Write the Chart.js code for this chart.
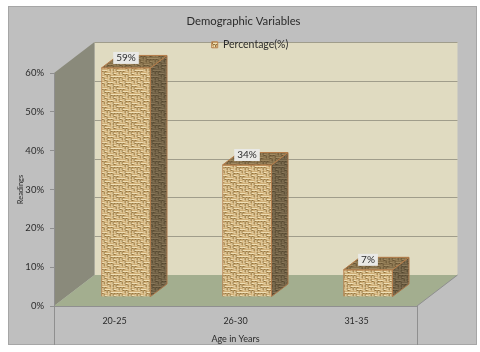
<!DOCTYPE html>
<html>
<head>
<meta charset="utf-8">
<title>Demographic Variables</title>
<script src="https://cdn.jsdelivr.net/npm/chart.js@4/dist/chart.umd.min.js"></script>
<style>
  html, body { margin: 0; padding: 0; background: #fff; }
  #wrap { width: 480px; height: 352px; }
</style>
</head>
<body>
<div id="wrap"><canvas id="chart" width="480" height="352"></canvas></div>
<script>
const ageGroups = ['20-25', '26-30', '31-35'];
const percentages = [59, 34, 7];
const seriesName = 'Percentage(%)';
const chartTitle = 'Demographic Variables';
const yAxisTitle = 'Readings';
const xAxisTitle = 'Age in Years';

const FONT = 'Lato, "Open Sans", sans-serif';
const TEXT = '#2b2b2b';
const DEPTH_X = 40.5;   // wall depth
const DEPTH_Y = 31;
const BAR_DX = 11.5;    // bars stand in the middle of the floor
const BAR_DY = -9;
const BAR_DEPTH_X = 16.5;
const BAR_DEPTH_Y = 12.5;

// burlap looking tile for the bars, H = threads across, V = threads down
const WEAVE_MAP = ['HVHHVV', 'VVHVHH', 'HHVVVH', 'VHHVHV', 'HVVHHH', 'VHVVHV'];

function makeWeave(light, mid, dark) {
  const tile = document.createElement('canvas');
  tile.width = 18;
  tile.height = 18;
  const c = tile.getContext('2d');
  c.fillStyle = mid;
  c.fillRect(0, 0, 18, 18);
  WEAVE_MAP.forEach((row, by) => {
    row.split('').forEach((cell, bx) => {
      const x = bx * 3;
      const y = by * 3;
      c.fillStyle = light;
      if (cell === 'H') c.fillRect(x, y + 1, 3, 1);
      else c.fillRect(x + 1, y, 1, 3);
      c.fillStyle = dark;
      if (cell === 'H') c.fillRect(x, y + 2, 2, 1);
      else c.fillRect(x + 2, y, 1, 2);
    });
  });
  return document.createElement('canvas').getContext('2d').createPattern(tile, 'repeat');
}

const frontWeave = makeWeave('#efdfb6', '#cfae76', '#93743f');
const sideWeave = makeWeave('#887759', '#6f5f44', '#54472f');
const topWeave = makeWeave('#a08a62', '#86704a', '#665233');

function poly(ctx, pts, fill, stroke) {
  ctx.beginPath();
  pts.forEach((p, i) => (i ? ctx.lineTo(p[0], p[1]) : ctx.moveTo(p[0], p[1])));
  ctx.closePath();
  ctx.fillStyle = fill;
  ctx.fill();
  if (stroke) {
    ctx.strokeStyle = stroke;
    ctx.lineWidth = 1;
    ctx.stroke();
  }
}

const scene = {
  id: 'scene',
  afterLayout(chart) {
    // title and legend are not centred on the canvas in the reference
    chart.titleBlock.left -= 4.5;
    chart.titleBlock.right -= 4.5;
    chart.legend.left += 2;
    chart.legend.right += 2;
  },
  beforeDraw(chart) {
    const { ctx, chartArea: a, scales } = chart;
    const y = scales.y;
    ctx.save();
    ctx.fillStyle = '#bfbfbf';
    ctx.fillRect(8, 6, 469, 339);
    ctx.strokeStyle = '#a6a6a6';
    ctx.lineWidth = 1;
    ctx.strokeRect(8.5, 6.5, 468, 338);

    const bx = a.left + DEPTH_X;
    const bxr = a.right + DEPTH_X;
    const bt = a.top - DEPTH_Y;
    const bb = a.bottom - DEPTH_Y;
    poly(ctx, [[bx, bt], [bxr, bt], [bxr, bb], [bx, bb]], '#e0dbc1');
    poly(ctx, [[a.left, a.top], [bx, bt], [bx, bb], [a.left, a.bottom]], '#8a8a7b');
    poly(ctx, [[a.left, a.bottom], [bx, bb], [bxr, bb], [a.right, a.bottom]], '#a3ae8f');

    // gridlines on the back wall
    ctx.strokeStyle = '#a09d8b';
    y.ticks.forEach((t) => {
      if (t.value === 0) return;
      const py = Math.round(y.getPixelForValue(t.value) - DEPTH_Y) + 0.5;
      ctx.beginPath();
      ctx.moveTo(bx, py);
      ctx.lineTo(bxr, py);
      ctx.stroke();
    });

    // axis table below the floor
    ctx.strokeStyle = '#8f8f8f';
    [a.left, a.right].forEach((px) => {
      ctx.beginPath();
      ctx.moveTo(Math.round(px) + 0.5, a.bottom);
      ctx.lineTo(Math.round(px) + 0.5, 345);
      ctx.stroke();
    });
    ctx.beginPath();
    ctx.moveTo(a.right, a.bottom);
    ctx.lineTo(bxr, bb);
    ctx.stroke();
    ctx.restore();
  },
  beforeDatasetDraw(chart, args) {
    const { ctx } = chart;
    ctx.save();
    ctx.translate(BAR_DX, BAR_DY);
    args.meta.data.forEach((bar) => {
      const l = bar.x - bar.width / 2;
      const r = bar.x + bar.width / 2;
      const dx = BAR_DEPTH_X;
      const dy = BAR_DEPTH_Y;
      poly(ctx, [[r, bar.y], [r + dx, bar.y - dy], [r + dx, bar.base - dy], [r, bar.base]], sideWeave, '#a9764a');
      poly(ctx, [[l, bar.y], [l + dx, bar.y - dy], [r + dx, bar.y - dy], [r, bar.y]], topWeave, '#b57c49');
    });
  },
  afterDatasetDraw(chart) {
    chart.ctx.restore();
  },
  afterDatasetsDraw(chart) {
    const { ctx } = chart;
    const meta = chart.getDatasetMeta(0);
    ctx.save();
    ctx.font = '10px ' + FONT;
    ctx.textAlign = 'center';
    ctx.textBaseline = 'middle';
    meta.data.forEach((bar, i) => {
      const text = percentages[i] + '%';
      const w = ctx.measureText(text).width + 6;
      const cx = bar.x + BAR_DX;
      const cy = bar.y + BAR_DY - 10;
      ctx.fillStyle = '#e9e9e6';
      ctx.fillRect(cx - w / 2, cy - 6, w, 12);
      ctx.fillStyle = TEXT;
      ctx.fillText(text, cx, cy);
    });
    ctx.restore();
  },
};

new Chart(document.getElementById('chart'), {
  type: 'bar',
  data: {
    labels: ageGroups,
    datasets: [
      {
        label: seriesName,
        data: percentages,
        backgroundColor: frontWeave,
        borderColor: '#b8824f',
        borderWidth: 1,
        barThickness: 49,
        clip: false,
      },
    ],
  },
  options: {
    responsive: false,
    animation: false,
    layout: { padding: { left: 16, right: 0, top: 0, bottom: 8 } },
    plugins: {
      title: {
        display: true,
        text: chartTitle,
        color: TEXT,
        font: { family: FONT, size: 11.3, weight: 'normal' },
        padding: { top: 15, bottom: 8 },
      },
      legend: {
        display: true,
        position: 'top',
        labels: {
          color: TEXT,
          font: { family: FONT, size: 10.5 },
          boxWidth: 6,
          boxHeight: 6,
          padding: 3,
        },
      },
      tooltip: { enabled: false },
    },
    scales: {
      x: {
        grid: { display: false },
        border: { color: '#8f8f8f' },
        ticks: { color: TEXT, font: { family: FONT, size: 9 }, padding: 2 },
        title: {
          display: true,
          text: xAxisTitle,
          color: TEXT,
          font: { family: FONT, size: 9 },
          padding: { top: 0, bottom: 0 },
        },
        afterFit(scale) {
          scale.height = 38;
        },
      },
      y: {
        min: 0,
        max: 60,
        ticks: {
          stepSize: 10,
          color: TEXT,
          font: { family: FONT, size: 9.5 },
          padding: 6,
          callback: (v) => v + '%',
        },
        grid: { drawOnChartArea: false, tickLength: 4, color: '#8f8f8f' },
        border: { color: '#8f8f8f' },
        title: {
          display: true,
          text: yAxisTitle,
          color: TEXT,
          font: { family: FONT, size: 7.5 },
          padding: { top: 0, bottom: 0 },
        },
        afterFit(scale) {
          scale.width = 38;
        },
      },
      // empty axes, they only keep room for the wall depth
      spacer: {
        position: 'right',
        display: true,
        ticks: { display: false },
        grid: { display: false },
        border: { display: false },
        afterFit(scale) {
          scale.width = 63;
        },
      },
      gap: {
        position: 'top',
        display: true,
        ticks: { display: false },
        grid: { display: false },
        border: { display: false },
        afterFit(scale) {
          scale.height = 13;
        },
      },
    },
  },
  plugins: [scene],
});
</script>
</body>
</html>
